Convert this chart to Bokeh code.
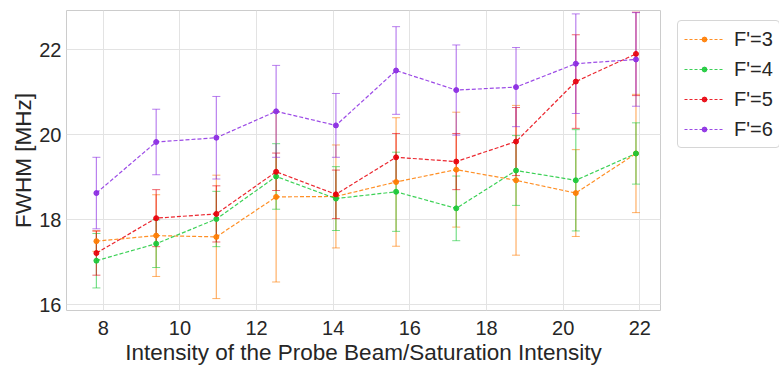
from bokeh.plotting import figure
from bokeh.layouts import row
from bokeh.models import ColumnDataSource, Whisker, TeeHead, Range1d, FixedTicker, Legend, LegendItem
from bokeh.embed import file_html
from bokeh.resources import INLINE

x_vals = [7.82, 9.38, 10.95, 12.51, 14.07, 15.64, 17.21, 18.77, 20.33, 21.90]

labels = ["F'=3", "F'=4", "F'=5", "F'=6"]

f3_y = [17.50, 17.63, 17.60, 18.54, 18.55, 18.89, 19.18, 18.93, 18.63, 19.56]
f3_err = [0.24, 0.96, 1.45, 2.00, 1.21, 1.51, 1.35, 1.76, 1.02, 1.39]

f4_y = [17.04, 17.44, 18.02, 19.02, 18.50, 18.66, 18.27, 19.16, 18.93, 19.56]
f4_err = [0.64, 0.56, 0.65, 0.77, 0.75, 0.93, 0.76, 0.82, 1.19, 0.72]

f5_y = [17.22, 18.04, 18.14, 19.13, 18.60, 19.47, 19.37, 19.84, 21.25, 21.90]
f5_err = [0.52, 0.67, 0.66, 0.44, 0.57, 0.56, 0.66, 0.80, 1.10, 0.98]

f6_y = [18.63, 19.83, 19.93, 20.55, 20.22, 21.51, 21.05, 21.12, 21.67, 21.77]
f6_err = [0.84, 0.77, 0.97, 1.08, 0.75, 1.03, 1.06, 0.93, 1.17, 1.10]

x_ticks = [8, 10, 12, 14, 16, 18, 20, 22]
y_ticks = [16, 18, 20, 22]

colors = ["#ff7c00", "#1ac938", "#e8000b", "#8b2be2"]
series = [(f3_y, f3_err), (f4_y, f4_err), (f5_y, f5_err), (f6_y, f6_err)]

FONT = "Liberation Sans"
TXT = "#262626"

p = figure(width=661, height=367, output_backend="svg", toolbar_location=None,
           x_range=Range1d(7.04, 22.54), y_range=Range1d(15.87, 22.92),
           min_border_left=66, min_border_right=1, min_border_top=10, min_border_bottom=52)

p.background_fill_color = "white"
p.border_fill_color = "white"
p.outline_line_color = "#cccccc"
p.outline_line_width = 1

for ax in (p.xaxis[0], p.yaxis[0]):
    ax.major_tick_line_color = None
    ax.minor_tick_line_color = None
    ax.major_tick_out = 0
    ax.major_tick_in = 0
    ax.minor_tick_out = 0
    ax.minor_tick_in = 0
    ax.axis_line_color = None
    ax.major_label_text_font = FONT
    ax.major_label_text_font_size = "20px"
    ax.major_label_text_color = TXT
    ax.axis_label_text_font = FONT
    ax.axis_label_text_font_size = "22.5px"
    ax.axis_label_text_font_style = "normal"
    ax.axis_label_text_color = TXT

p.xaxis.major_label_standoff = 10
p.xaxis.axis_label_standoff = 2
p.yaxis.major_label_standoff = 5
p.yaxis.axis_label_standoff = 0

p.xaxis.ticker = FixedTicker(ticks=x_ticks)
p.yaxis.ticker = FixedTicker(ticks=y_ticks)
p.xaxis.axis_label = "Intensity of the Probe Beam/Saturation Intensity"
p.yaxis.axis_label = "FWHM [MHz]"

p.xgrid.ticker = FixedTicker(ticks=x_ticks)
p.ygrid.ticker = FixedTicker(ticks=y_ticks)
p.grid.grid_line_color = "#e3e3e3"
p.grid.grid_line_width = 1

# legend-only side figure (its range excludes the data, so only the legend shows)
q = figure(width=118, height=367, output_backend="svg", toolbar_location=None,
           x_range=Range1d(0, 1), y_range=Range1d(0, 1),
           min_border_left=6, min_border_right=0, min_border_top=0, min_border_bottom=0)
q.axis.visible = False
q.grid.visible = False
q.outline_line_color = None
q.background_fill_color = "white"
q.border_fill_color = "white"

items = []
for (yv, ev), col, lab in zip(series, colors, labels):
    src = ColumnDataSource(dict(
        x=x_vals, y=yv,
        upper=[a + b for a, b in zip(yv, ev)],
        lower=[a - b for a, b in zip(yv, ev)],
    ))
    w = Whisker(source=src, base="x", upper="upper", lower="lower", dimension="height",
                line_color=col, line_alpha=0.6, line_width=1.2,
                upper_head=TeeHead(size=8, line_color=col, line_alpha=0.6, line_width=1),
                lower_head=TeeHead(size=8, line_color=col, line_alpha=0.6, line_width=1))
    p.add_layout(w)
    p.line("x", "y", source=src, line_color=col, line_alpha=0.85, line_width=1.2,
           line_dash="4 2")
    p.scatter("x", "y", source=src, size=5, fill_color=col, line_color=col, alpha=0.9)

    ln = q.line("x", "y", source=src, line_color=col, line_alpha=0.85, line_width=1.2,
                line_dash="3 2")
    sc = q.scatter("x", "y", source=src, size=5, fill_color=col, line_color=col, alpha=0.9)
    items.append(LegendItem(label=lab, renderers=[ln, sc]))

legend = Legend(items=items, location="top_left")
legend.label_text_font = FONT
legend.label_text_font_size = "20px"
legend.label_text_color = TXT
legend.border_line_color = "#d6d6d6"
legend.border_line_alpha = 1
legend.border_radius = 4
legend.background_fill_color = "white"
legend.glyph_width = 40
legend.glyph_height = 12
legend.label_height = 24
legend.spacing = 6
legend.padding = 6
legend.label_standoff = 10
legend.margin = 10
q.add_layout(legend, "center")

layout = row(p, q)
open("out.html", "w").write(file_html(layout, INLINE))
